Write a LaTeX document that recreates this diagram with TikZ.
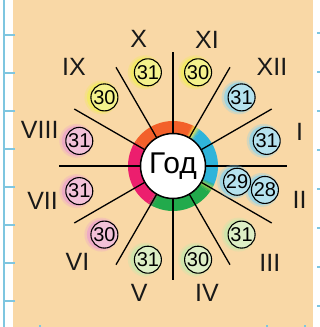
\documentclass[tikz,border=0pt]{standalone}
\usepackage{fontspec}
\setmainfont{Liberation Sans}
\definecolor{bgtan}{HTML}{F9D8A6}
\definecolor{gridblue}{HTML}{7EC6E0}
\definecolor{rorange}{HTML}{F3602A}
\definecolor{rpink}{HTML}{EC1E6E}
\definecolor{rgreen}{HTML}{22AA4C}
\definecolor{rblue}{HTML}{2FB4DA}
\definecolor{ryellow}{HTML}{F6E84A}
\definecolor{yelf}{HTML}{F4F28C}
\definecolor{yelh}{HTML}{F3EC5E}
\definecolor{bluf}{HTML}{B5E2EE}
\definecolor{bluh}{HTML}{93D4E8}
\definecolor{grnf}{HTML}{DDEFC6}
\definecolor{grnh}{HTML}{CBE7AC}
\definecolor{pnkf}{HTML}{F2C1D8}
\definecolor{pnkh}{HTML}{EDA6CA}
\newcommand\ringseg[3]{\fill[#1] (#2:45) arc[start angle=#2, end angle=#3, radius=45] -- (#3:32) arc[start angle=#3, end angle=#2, radius=32] -- cycle;}
\newcommand\ringblend[4]{%
  \foreach \k in {0,...,7}{%
    \pgfmathsetmacro\sa{#1+(#2-#1)*\k/8}%
    \pgfmathsetmacro\ea{#1+(#2-#1)*(\k+1)/8+0.4}%
    \pgfmathtruncatemacro\p{100*\k/7}%
    \ringseg{#4!\p!#3}{\sa}{\ea}}}
\begin{document}
\begin{tikzpicture}[x=1pt,y=1pt,
  monthlbl/.style={font=\fontsize{25}{25}\selectfont, inner sep=0pt, text=black!90},
  daynum/.style={circle, draw=black, line width=1.1pt, minimum size=27pt, inner sep=0pt, font=\fontsize{20}{20}\selectfont},
  spoke/.style={line width=1.3pt, black},
  gridtick/.style={draw=gridblue, line width=1.3pt}]
\useasboundingbox (-173,-161) rectangle (147,166);
% paper and grid margin
\fill[white] (-173,-161) rectangle (147,166);
\fill[bgtan] (-160,-161) rectangle (140,166);
\draw[gridblue, line width=1.5pt] (-169,-161) -- (-169,166);
\foreach \y in {35,73,...,301} \draw[gridtick] (-169,166-\y) -- (-158,166-\y);
\foreach \y in {33,72,...,320} \draw[gridtick] (144,166-\y) -- (147,166-\y);
\foreach \x in {40,267,305} \draw[gridtick] (\x-173,-161) -- (\x-173,-159);
% season ring
\ringseg{rorange}{66}{146}
\ringseg{rpink}{154}{236}
\ringseg{rgreen}{244}{324}
\ringseg{rblue}{-24}{52}
\ringblend{52}{60}{rblue}{ryellow}
\ringblend{60}{66}{ryellow}{rorange}
\ringblend{146}{154}{rorange}{rpink}
\ringblend{236}{244}{rpink}{rgreen}
\ringblend{324}{330}{rgreen}{ryellow!60!rgreen}
\ringblend{330}{336}{ryellow!60!rgreen}{rblue}
% spokes
\foreach \a in {0,30,...,330}{
  \coordinate (si\a) at (\a:32);
  \coordinate (so\a) at (\a:114);
  \draw[spoke] (si\a) -- (so\a);
}
% centre
\node[circle, draw=black, fill=white, line width=1.5pt, minimum size=65pt, inner sep=0pt,
      font=\fontsize{30}{30}\selectfont] (year) at (0,0) {Год};
% months
\foreach \ang/\lr/\lab/\num/\cf/\ch [count=\i] in {
  15/131/I/31/bluf/bluh,
  -45/137/III/31/grnf/grnh,
  -75/131/IV/30/grnf/grnh,
  -105/131/V/31/grnf/grnh,
  -135/135/VI/30/pnkf/pnkh,
  -165/135/VII/31/pnkf/pnkh,
  165/138/VIII/31/pnkf/pnkh,
  135/140/IX/30/yelf/yelh,
  105/132/X/31/yelf/yelh,
  75/131/XI/30/yelf/yelh,
  45/140/XII/31/bluf/bluh}{
  \node[monthlbl] (m\i) at (\ang:\lr) {\lab};
  \fill[\ch, opacity=0.35] (\ang:97) ++(-3,0) circle (17);
  \fill[\ch, opacity=0.8] (\ang:97) ++(-2.5,0) circle (15);
  \node[daynum, fill=\cf] (d\i) at (\ang:97) {\num};
}
% February
\node[monthlbl] (feb) at (-15:131) {II};
\fill[bluh, opacity=0.35] (-14.6:95) ++(-3,0) circle (17);
\fill[bluh, opacity=0.8] (-14.6:95) ++(-2.5,0) circle (15);
\fill[bluh, opacity=0.35] (-13.8:66) ++(-3,0) circle (17);
\fill[bluh, opacity=0.8] (-13.8:66) ++(-2.5,0) circle (15);
\node[daynum, fill=bluf] (febb) at (-14.6:95) {28};
\node[daynum, fill=bluf] (feba) at (-13.8:66) {29};
\end{tikzpicture}
\end{document}
